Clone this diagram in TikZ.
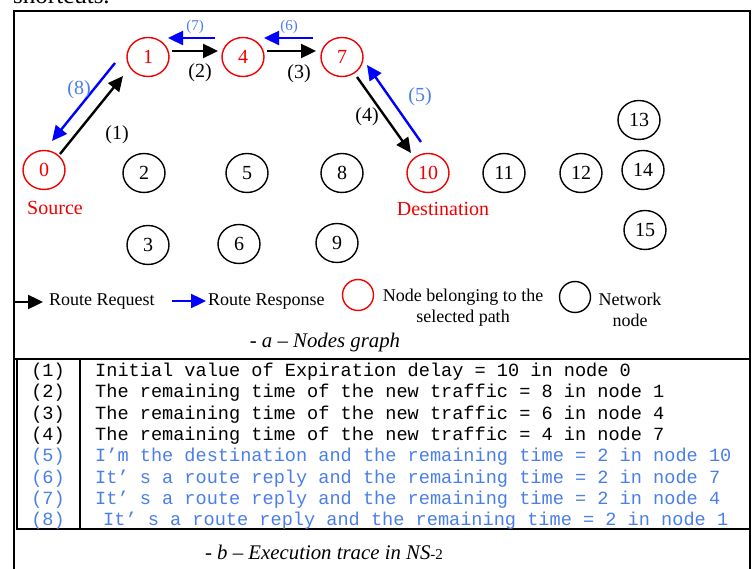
\documentclass[tikz,border=0pt]{standalone}
\usepackage{fontspec}
\setmainfont{Liberation Serif}
\setmonofont{Liberation Mono}
\usetikzlibrary{shapes.geometric,arrows.meta,calc}
\definecolor{pathred}{RGB}{240,0,0}
\definecolor{respblue}{RGB}{0,0,255}
\definecolor{traceblue}{RGB}{74,126,232}

\begin{document}
\begin{tikzpicture}[x=1pt,y=-1pt,
  netnode/.style={ellipse,draw,line width=1.4pt,minimum width=42pt,minimum height=39pt,
    inner sep=0pt,font=\fontsize{20}{24}\selectfont},
  pathnode/.style={netnode,draw=pathred,text=pathred},
  req/.style={line width=2.4pt,-{Triangle[length=15pt,width=14pt]}},
  resp/.style={req,draw=respblue},
  steplbl/.style={font=\fontsize{20}{24}\selectfont,inner sep=0pt},
  bluelbl/.style={steplbl,text=traceblue},
  smallblue/.style={inner sep=0pt,text=traceblue,font=\fontsize{15}{18}\selectfont},
  redlbl/.style={steplbl,text=pathred},
  legendtxt/.style={font=\fontsize{18}{21}\selectfont,inner sep=0pt,align=center},
  legcircle/.style={circle,draw,line width=1.4pt,minimum size=31pt,inner sep=0pt},
  frame/.style={line width=2pt},
  tracetxt/.style={font=\ttfamily\fontsize{18.6}{21}\selectfont,anchor=base west,inner sep=0pt},
  tracenum/.style={font=\ttfamily\fontsize{18.6}{21}\selectfont,anchor=base,inner sep=0pt},
  caption/.style={font=\fontsize{20.8}{24}\selectfont,inner sep=0pt}
]
\useasboundingbox (0,0) rectangle (755,569);

% running text of the page above the figure
\node[anchor=base west,inner sep=0pt,font=\fontsize{25}{30}\selectfont] (pagetext) at (13,4) {shortcuts.};

% outer frame and separator
\draw[frame] (14,600) -- (14,11) -- (750,11) -- (750,600);
\draw[line width=2.4pt] (14,359) -- (750,359);

% network nodes
\node[pathnode] (n0)  at (44,170)  {0};
\node[pathnode] (n1)  at (148,57)  {1};
\node[pathnode] (n4)  at (243,57)  {4};
\node[pathnode] (n7)  at (342,57)  {7};
\node[pathnode] (n10) at (428,173) {10};
\node[netnode]  (n2)  at (144,173) {2};
\node[netnode]  (n5)  at (247,173) {5};
\node[netnode]  (n8)  at (342,173) {8};
\node[netnode]  (n11) at (504,173) {11};
\node[netnode]  (n12) at (581,173) {12};
\node[netnode]  (n13) at (639,120) {13};
\node[netnode]  (n14) at (643,170) {14};
\node[netnode]  (n15) at (645,230) {15};
\node[netnode]  (n3)  at (148,245) {3};
\node[netnode]  (n6)  at (239,244) {6};
\node[netnode]  (n9)  at (337,243) {9};

\node[redlbl] (src) at (55,208) {Source};
\node[redlbl] (dst) at (443,209) {Destination};

% route request (black) and route response (blue)
\draw[req]  ($(n0)+(16,-16)$)  -- ($(n1)+(-25,19)$);
\draw[resp] ($(n1)+(-33,6)$)   -- ($(n0)+(8,-29)$);
\draw[req]  ($(n1)+(24,-6)$)   -- ($(n4)+(-25,-6)$);
\draw[resp] ($(n4)+(-28,-19)$) -- ($(n1)+(20,-19)$);
\draw[req]  ($(n4)+(24,-6)$)   -- ($(n7)+(-26,-6)$);
\draw[resp] ($(n7)+(-29,-19)$) -- ($(n4)+(21,-19)$);
\draw[req]  ($(n7)+(15,20)$)   -- ($(n10)+(-17,-20)$);
\draw[resp] ($(n10)+(-7,-31)$) -- ($(n7)+(25,8)$);

\node[steplbl]   (l1) at (117,135) {(1)};
\node[steplbl]   (l2) at (200,73)  {(2)};
\node[steplbl]   (l3) at (299,74)  {(3)};
\node[steplbl]   (l4) at (367,117) {(4)};
\node[bluelbl]   (l5) at (420,97)  {(5)};
\node[smallblue] (l6) at (289,27)  {(6)};
\node[smallblue] (l7) at (195,27)  {(7)};
\node[bluelbl]   (l8) at (79,90)   {(8)};

% legend
\coordinate (rqA) at (14,302);
\coordinate (rqB) at (43,302);
\draw[req] (rqA) -- (rqB);
\node[legendtxt,anchor=west] (rqT) at (49,302) {Route Request};
\coordinate (rsA) at (172,301);
\coordinate (rsB) at (206,301);
\draw[resp] (rsA) -- (rsB);
\node[legendtxt,anchor=west] (rsT) at (208,302) {Route Response};
\node[legcircle,draw=pathred] (lgRed) at (358,295) {};
\node[legendtxt] (lgRedT) at (463,308) {Node belonging to the\\selected path};
\node[legcircle] (lgBlack) at (575,297) {};
\node[legendtxt] (lgBlackT) at (630,310) {Network\\node};
\node[caption] (capA) at (325,342) {\itshape - a – Nodes graph};

% execution trace table
\draw[line width=2.4pt] (17,359) -- (17,529) -- (750,529);
\draw[line width=2.2pt] (80,359) -- (80,529);

\node[tracenum] (k1) at (48,376) {(1)};
\node[tracenum] (k2) at (48,397) {(2)};
\node[tracenum] (k3) at (48,419) {(3)};
\node[tracenum] (k4) at (48,440) {(4)};
\node[tracenum,text=traceblue] (k5) at (48,461) {(5)};
\node[tracenum,text=traceblue] (k6) at (48,483) {(6)};
\node[tracenum,text=traceblue] (k7) at (48,504) {(7)};
\node[tracenum,text=traceblue] (k8) at (48,525) {(8)};

\node[tracetxt] (t1) at (95,376) {Initial value of Expiration delay = 10 in node 0};
\node[tracetxt] (t2) at (95,397) {The remaining time of the new traffic = 8 in node 1};
\node[tracetxt] (t3) at (95,419) {The remaining time of the new traffic = 6 in node 4};
\node[tracetxt] (t4) at (95,440) {The remaining time of the new traffic = 4 in node 7};
\node[tracetxt,text=traceblue] (t5) at (95,461) {I’m the destination and the remaining time = 2 in node 10};
\node[tracetxt,text=traceblue] (t6) at (95,483) {It’ s a route reply and the remaining time = 2 in node 7};
\node[tracetxt,text=traceblue] (t7) at (95,504) {It’ s a route reply and the remaining time = 2 in node 4};
\node[tracetxt,text=traceblue] (t8) at (103,525) {It’ s a route reply and the remaining time = 2 in node 1};

\node[caption] (capB) at (324,552) {{\itshape - b – Execution trace in NS}{\fontsize{15}{18}\selectfont -2}};
\end{tikzpicture}
\end{document}
